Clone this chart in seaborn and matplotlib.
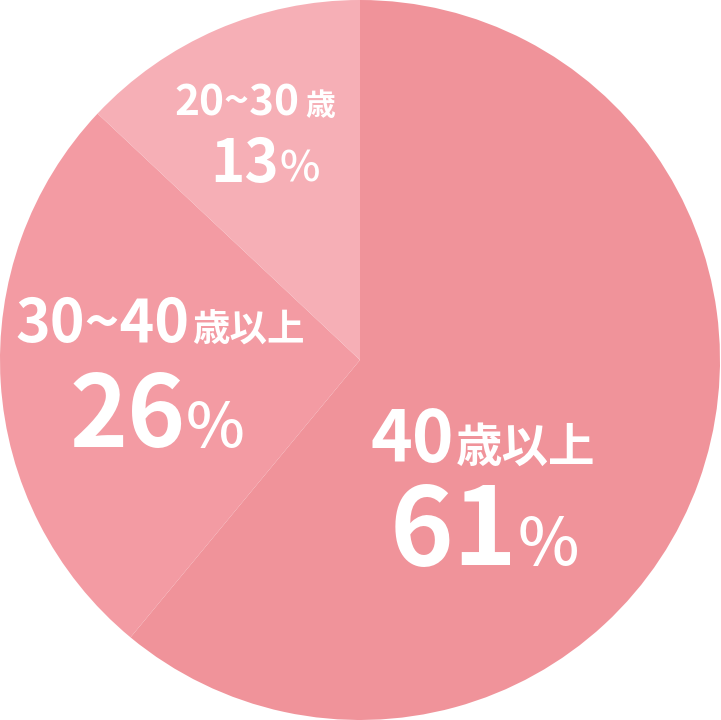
import matplotlib
matplotlib.use("Agg")
import matplotlib.pyplot as plt
import seaborn as sns

# data
labels = ["40歳以上", "30~40歳以上", "20~30歳"]
shares = [61, 26, 13]
colors = ["#F0939A", "#F39BA3", "#F6AFB6"]

sns.set_theme(style="white")
plt.rcParams["font.family"] = ["Noto Sans CJK JP", "DejaVu Sans"]

fig = plt.figure(figsize=(7.21, 7.2), dpi=100)
ax = fig.add_axes([0, 0, 720 / 721, 1])
ax.pie(shares, colors=colors, startangle=90, counterclock=False,
       radius=1, wedgeprops=dict(linewidth=0))
ax.set_xlim(-1, 1)
ax.set_ylim(-1, 1)
ax.set_aspect("equal")
ax.axis("off")

renderer = fig.canvas.get_renderer()
px = 2 / 720  # data units per pixel


def put_line(cx, cy, parts):
    # parts: (text, fontsize, weight, gap before in px)
    texts, widths = [], []
    for s, size, weight, gap in parts:
        t = ax.text(0, 0, s, fontsize=size, fontweight=weight, color="white",
                    ha="left", va="baseline")
        texts.append((t, gap))
        widths.append(t.get_window_extent(renderer).width + gap)
    x = cx - sum(widths) * px / 2
    for (t, gap), w in zip(texts, widths):
        t.set_position((x + gap * px, cy))
        x += w * px


def to_data(x, y):
    return (x - 360) / 360, (360 - y) / 360


def split_label(lab):
    i = lab.index("歳")
    return lab[:i], lab[i:]


# pixel centers and baselines
label_pos = [(483, 462), (160, 342), (255, 115)]
pct_pos = [(484, 565), (157, 447), (265, 182)]
num_sizes = [51, 42.5, 30.5]
kanji_sizes = [33.5, 27, 21.5]
kanji_gaps = [2, 2, 6]
pct_sizes = [78, 71, 42]
sign_sizes = [47, 45, 31]

for i, lab in enumerate(labels):
    num, kan = split_label(lab)
    put_line(*to_data(*label_pos[i]),
             [(num, num_sizes[i], "bold", 0), (kan, kanji_sizes[i], "bold", kanji_gaps[i])])
    put_line(*to_data(*pct_pos[i]),
             [(str(shares[i]), pct_sizes[i], "bold", 0), ("%", sign_sizes[i], "medium", 0)])

fig.savefig("out.png", dpi=100)
